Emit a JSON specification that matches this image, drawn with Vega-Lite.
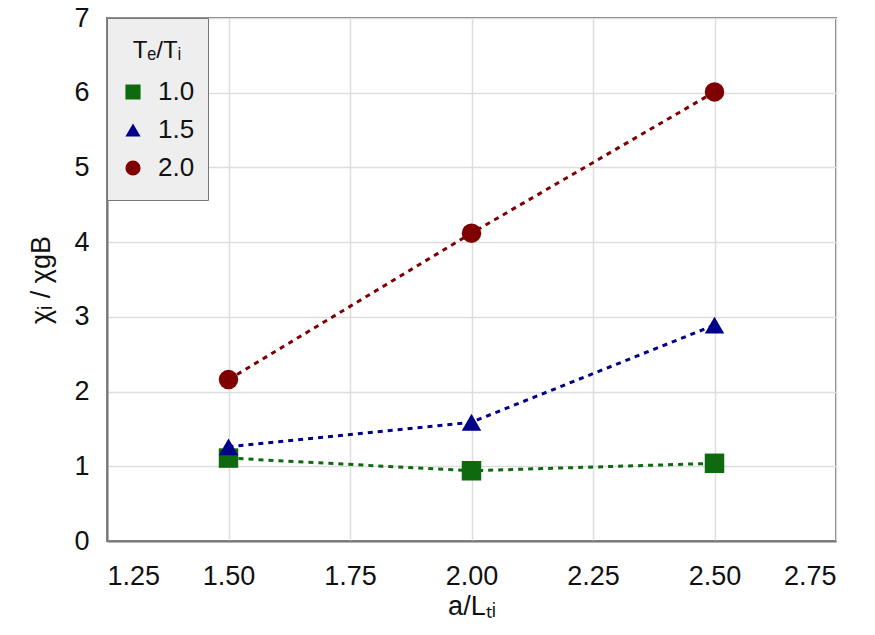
{
  "$schema": "https://vega.github.io/schema/vega-lite/v6.json",
  "width": 729,
  "height": 523,
  "autosize": {"type": "none"},
  "padding": {"left": 107, "top": 18, "right": 39, "bottom": 94},
  "background": "white",
  "config": {
    "font": "Liberation Sans",
    "view": {"stroke": "#777777", "strokeWidth": 2},
    "axis": {
      "labelFont": "Liberation Sans",
      "titleFont": "Liberation Sans",
      "labelFontSize": 27,
      "titleFontSize": 27,
      "titleFontWeight": "normal",
      "labelColor": "#111111",
      "titleColor": "#111111",
      "gridColor": "#dddddd",
      "gridWidth": 1.5,
      "domainColor": "#777777",
      "domainWidth": 2,
      "tickColor": "#777777",
      "tickSize": 0
    },
    "legend": {
      "orient": "top-left",
      "offset": 0,
      "padding": 13,
      "fillColor": "#eeeeee",
      "strokeColor": "#777777",
      "titleFontSize": 24,
      "titleFontWeight": "normal",
      "titleColor": "#111111",
      "titleFont": "Liberation Sans",
      "titlePadding": 10,
      "titleLineHeight": 8,
      "titleAnchor": "middle",
      "titleAlign": "center",
      "labelFontSize": 26,
      "labelColor": "#111111",
      "labelFont": "Liberation Sans",
      "labelOffset": 12,
      "symbolSize": 230,
      "symbolStrokeWidth": 0,
      "rowPadding": 0,
      "clipHeight": 38,
      "symbolOpacity": 1
    }
  },
  "data": {
    "values": [
      {"x": 1.5, "y": 1.11, "T": "1.0"},
      {"x": 2.0, "y": 0.94, "T": "1.0"},
      {"x": 2.5, "y": 1.04, "T": "1.0"},
      {"x": 1.5, "y": 1.26, "T": "1.5"},
      {"x": 2.0, "y": 1.59, "T": "1.5"},
      {"x": 2.5, "y": 2.89, "T": "1.5"},
      {"x": 1.5, "y": 2.16, "T": "2.0"},
      {"x": 2.0, "y": 4.12, "T": "2.0"},
      {"x": 2.5, "y": 6.01, "T": "2.0"}
    ]
  },
  "encoding": {
    "x": {
      "field": "x",
      "type": "quantitative",
      "scale": {"domain": [1.25, 2.75], "nice": false, "zero": false},
      "axis": {"values": [1.25, 1.5, 1.75, 2.0, 2.25, 2.5, 2.75], "format": ".2f", "labelPadding": 22, "title": "a/Lₜᵢ", "titlePadding": 4}
    },
    "y": {
      "field": "y",
      "type": "quantitative",
      "scale": {"domain": [0, 7], "nice": false},
      "axis": {"values": [0, 1, 2, 3, 4, 5, 6, 7], "labelPadding": 18, "title": "χᵢ / χgB", "titlePadding": 18}
    }
  },
  "layer": [
    {
      "mark": {"type": "line", "strokeDash": [5, 5], "strokeWidth": 3},
      "encoding": {
        "color": {
          "field": "T",
          "type": "nominal",
          "title": ["", "Tₑ/Tᵢ"],
          "scale": {"domain": ["1.0", "1.5", "2.0"], "range": ["#0f6a0f", "#00008b", "#7f0000"]}
        }
      }
    },
    {
      "mark": {"type": "point", "filled": true, "opacity": 1, "size": 380},
      "encoding": {
        "shape": {
          "field": "T",
          "type": "nominal",
          "title": ["", "Tₑ/Tᵢ"],
          "scale": {"domain": ["1.0", "1.5", "2.0"], "range": ["square", "triangle-up", "circle"]}
        },
        "color": {
          "field": "T",
          "type": "nominal",
          "title": ["", "Tₑ/Tᵢ"],
          "scale": {"domain": ["1.0", "1.5", "2.0"], "range": ["#0f6a0f", "#00008b", "#7f0000"]}
        }
      }
    }
  ]
}
